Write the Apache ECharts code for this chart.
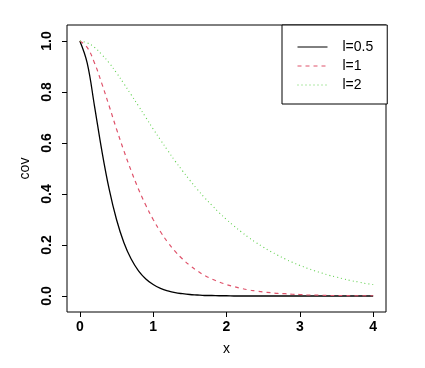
<!DOCTYPE html>
<html>
<head>
<meta charset="utf-8">
<script src="https://cdn.jsdelivr.net/npm/echarts@6/dist/echarts.min.js"></script>
<style>html,body{margin:0;padding:0;background:#fff;}#c{width:425px;height:368px;}</style>
</head>
<body>
<div id="c"></div>
<script>
var xValues = [0,0.1,0.2,0.3,0.4,0.5,0.6,0.7,0.8,0.9,1.0,1.1,1.2,1.3,1.4,1.5,1.6,1.7,1.8,1.9,2.0,2.1,2.2,2.3,2.4,2.5,2.6,2.7,2.8,2.9,3.0,3.1,3.2,3.3,3.4,3.5,3.6,3.7,3.8,3.9,4.0];
var covL05 = [1,0.914,0.745,0.570,0.419,0.300,0.210,0.145,0.099,0.067,0.045,0.030,0.020,0.013,0.009,0.006,0.004,0.002,0.002,0.001,0.001,0,0,0,0,0,0,0,0,0,0,0,0,0,0,0,0,0,0,0,0];
var covL1 = [1,0.975,0.914,0.833,0.745,0.655,0.570,0.491,0.419,0.356,0.300,0.252,0.210,0.175,0.145,0.120,0.099,0.081,0.067,0.055,0.045,0.037,0.030,0.024,0.020,0.016,0.013,0.010,0.009,0.007,0.006,0.004,0.004,0.003,0.002,0.002,0.002,0.001,0.001,0.001,0.001];
var covL2 = [1,0.993,0.975,0.947,0.914,0.875,0.833,0.789,0.745,0.700,0.655,0.612,0.570,0.529,0.491,0.454,0.419,0.386,0.356,0.327,0.300,0.275,0.252,0.230,0.210,0.192,0.175,0.160,0.145,0.132,0.120,0.109,0.099,0.090,0.081,0.074,0.067,0.060,0.055,0.049,0.045];
var seriesNames = ['l=0.5','l=1','l=2'];
var xTicks = [0,1,2,3,4];
var yTicks = [0,0.2,0.4,0.6,0.8,1.0];

function pairs(ys){ return xValues.map(function(x,i){ return [x, ys[i]]; }); }

var chart = echarts.init(document.getElementById('c'));
var font = 'Liberation Sans, Arial, sans-serif';
chart.setOption({
  animation: false,
  backgroundColor: '#fff',
  textStyle: { fontFamily: font },
  grid: { left: 67, top: 25, width: 319, height: 287, show: true, borderColor: '#000', borderWidth: 1, backgroundColor: 'transparent' },
  legend: {
    orient: 'vertical', left: 282, top: 25,
    padding: [15, 14, 12, 15], itemGap: 5, itemWidth: 30, itemHeight: 14,
    borderColor: '#000', borderWidth: 1, backgroundColor: '#fff',
    itemStyle: { opacity: 0 },
    lineStyle: { width: 1 },
    textStyle: { fontSize: 14, color: '#000', fontFamily: font, padding: [0,0,0,10] },
    data: seriesNames
  },
  xAxis: {
    type: 'value', min: -0.175, max: 4.175,
    name: 'x', nameLocation: 'middle', nameGap: 30,
    nameTextStyle: { fontSize: 14, color: '#000', fontFamily: font },
    axisLine: { show: false, onZero: false },
    splitLine: { show: false },
    axisTick: { show: true, inside: false, length: 5, lineStyle: { color: '#000' }, customValues: xTicks },
    axisLabel: { fontSize: 14, fontWeight: 'bold', color: '#000', margin: 8, customValues: xTicks, fontFamily: font }
  },
  yAxis: {
    type: 'value', min: -0.0627, max: 1.0627,
    name: 'cov', nameLocation: 'middle', nameGap: 33,
    nameTextStyle: { fontSize: 14, color: '#000', fontFamily: font },
    axisLine: { show: false, onZero: false },
    splitLine: { show: false },
    axisTick: { show: true, inside: false, length: 5, lineStyle: { color: '#000' }, customValues: yTicks },
    axisLabel: { fontSize: 14, fontWeight: 'bold', color: '#000', margin: 13, rotate: 90, customValues: yTicks, fontFamily: font,
      formatter: function(v){ return v.toFixed(1); } }
  },
  series: [
    { name: seriesNames[0], type: 'line', data: pairs(covL05), symbol: 'none', smooth: 0.4,
      lineStyle: { color: '#000000', width: 1.3, type: 'solid' }, itemStyle: { color: '#000000' } },
    { name: seriesNames[1], type: 'line', data: pairs(covL1), symbol: 'none', smooth: 0.4,
      lineStyle: { color: '#DF536B', width: 1.2, type: [4,4] }, itemStyle: { color: '#DF536B' } },
    { name: seriesNames[2], type: 'line', data: pairs(covL2), symbol: 'none', smooth: 0.4,
      lineStyle: { color: '#61D04F', width: 1.1, type: [1,3] }, itemStyle: { color: '#61D04F' } }
  ]
});
</script>
</body>
</html>
